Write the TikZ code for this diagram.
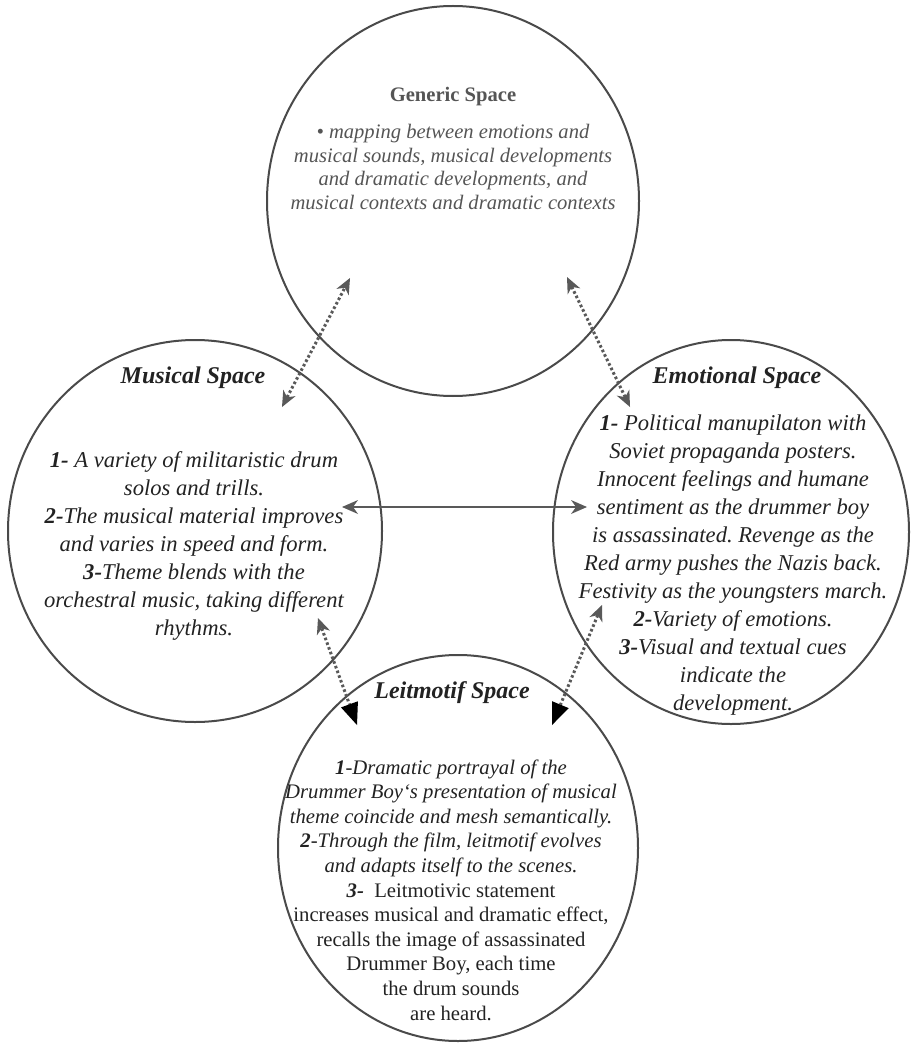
\documentclass[tikz,border=0pt]{standalone}
\usepackage{fontspec}
\setmainfont{Liberation Serif}
\usetikzlibrary{shapes.geometric,arrows.meta}
\definecolor{cline}{HTML}{4A4A4A}
\definecolor{garrow}{HTML}{595959}
\definecolor{gtext}{HTML}{555555}
\definecolor{btext}{HTML}{222222}
\frenchspacing
\begin{document}
\begin{tikzpicture}[x=0.5pt,y=-0.5pt,
  space/.style={ellipse,draw=cline,line width=1pt,inner sep=0pt},
  gtitle/.style={text=gtext,font=\fontsize{10.3pt}{12pt}\selectfont\bfseries},
  gbody/.style={text=gtext,align=center,font=\fontsize{10.3pt}{11.75pt}\selectfont\itshape},
  stitle/.style={text=btext,font=\fontsize{12pt}{14pt}\selectfont\bfseries\itshape},
  mbody/.style={text=btext,align=center,font=\fontsize{11.3pt}{14pt}\selectfont\itshape},
  lbody/.style={text=btext,align=center,font=\fontsize{10.35pt}{12.3pt}\selectfont},
  dotarrow/.style={draw=garrow,line width=1.5pt,dash pattern=on 1.3pt off 1.2pt},
  gtip/.tip={Stealth[length=8pt,width=7pt,inset=2.5pt,color=garrow,line width=0pt]},
  btip/.tip={Triangle[length=11pt,width=9pt,color=black,line width=0pt]},
  solidarrow/.style={draw=garrow,line width=1.3pt}]
\useasboundingbox (0,0) rectangle (910,1043);

% spaces
\node[space,minimum width=186pt,minimum height=195pt] (gen) at (453,201) {};
\node[space,minimum width=187pt,minimum height=191pt] (mus) at (195,531) {};
\node[space,minimum width=178pt,minimum height=192pt] (emo) at (731,532) {};
\node[space,minimum width=180pt,minimum height=193pt] (lei) at (458,848) {};

% texts
\node[gtitle] (gent) at (453,97) {Generic Space};
\node[gbody] (genb) at (453,167) {• mapping between emotions and\\
musical sounds, musical developments\\
and dramatic developments, and\\
musical contexts and dramatic contexts};

\node[stitle] (must) at (193,378) {Musical Space};
\node[mbody] (musb) at (194,546) {\textbf{1-} A variety of militaristic drum\\
solos and trills.\\
\textbf{2-}The musical material improves\\
and varies in speed and form.\\
\textbf{3-}Theme blends with the\\
orchestral music, taking different\\
rhythms.};

\node[stitle] (emot) at (737,378) {Emotional Space};
\node[mbody] (emob) at (733,565) {\textbf{1-} Political manupilaton with\\
Soviet propaganda posters.\\
Innocent feelings and humane\\
sentiment as the drummer boy\\
is assassinated. Revenge as the\\
Red army pushes the Nazis back.\\
Festivity as the youngsters march.\\
\textbf{2-}Variety of emotions.\\
\textbf{3-}Visual and textual cues\\
indicate the\\
development.};

\node[stitle] (leit) at (452,693) {Leitmotif Space};
\node[lbody] (leib) at (451,890) {\textit{\textbf{1}-Dramatic portrayal of the}\\
\textit{Drummer Boy‘s presentation of musical}\\
\textit{theme coincide and mesh semantically.}\\
\textit{\textbf{2}-Through the film, leitmotif evolves}\\
\textit{and adapts itself to the scenes.}\\
\textbf{\textit{3-}}\ \ Leitmotivic statement\\
increases musical and dramatic effect,\\
recalls the image of assassinated\\
Drummer Boy, each time\\
the drum sounds\\
are heard.};

% connector ends
\coordinate (gmA) at (350,278);
\coordinate (gmB) at (282,407);
\coordinate (geA) at (567,277);
\coordinate (geB) at (630,407);
\coordinate (meA) at (342,507);
\coordinate (meB) at (587,507);
\coordinate (mlA) at (318,618);
\coordinate (mlB) at (357,725);
\coordinate (elA) at (602,605);
\coordinate (elB) at (552,725);

\draw[dotarrow,{gtip}-{gtip}] (gmB) -- (gmA);
\draw[dotarrow,{gtip}-{gtip}] (geB) -- (geA);
\draw[solidarrow,{gtip}-{gtip}] (meA) -- (meB);
\draw[dotarrow,{gtip}-{btip}] (mlA) -- (mlB);
\draw[dotarrow,{gtip}-{btip}] (elA) -- (elB);
\end{tikzpicture}
\end{document}
